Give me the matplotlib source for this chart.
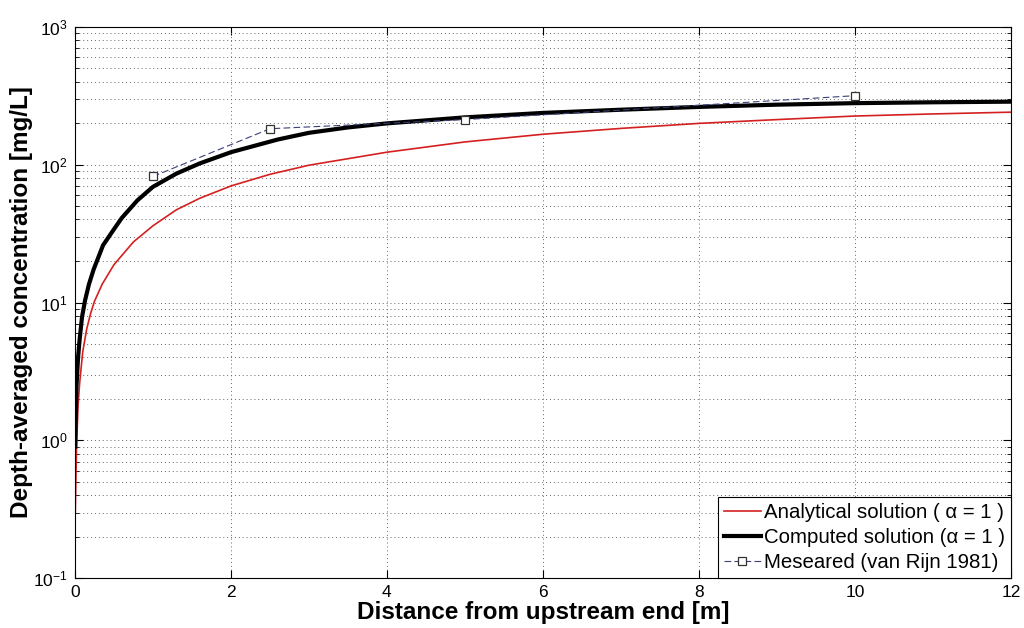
import matplotlib
matplotlib.use("Agg")
import matplotlib.pyplot as plt
from matplotlib.ticker import LogLocator, FixedLocator, NullFormatter

plt.rcParams['font.family'] = ['Liberation Sans', 'DejaVu Sans']
plt.rcParams['mathtext.default'] = 'regular'

# Analytical solution (red)
x_analytical = [0.004, 0.01, 0.02, 0.04, 0.06, 0.1, 0.15, 0.2, 0.25, 0.35, 0.5, 0.75,
                1.0, 1.3, 1.6, 2.0, 2.5, 3.0, 4.0, 5.0, 6.0, 7.0, 8.0, 9.0, 10.0, 11.0, 12.0]
c_analytical = [0.3, 0.45, 0.9, 1.8, 2.6, 4.4, 6.4, 8.3, 10.2, 13.6, 18.8, 27.5,
                36, 47, 57, 70, 85, 99, 123, 146, 166, 183, 199, 212, 225, 233, 240]

# Computed solution (black)
x_computed = [0.003, 0.01, 0.02, 0.04, 0.06, 0.09, 0.13, 0.18, 0.24, 0.36, 0.5, 0.6, 0.8,
              1.0, 1.3, 1.6, 2.0, 2.6, 3.0, 3.5, 4.0, 5.0, 6.0, 7.0, 8.0, 9.0, 10.0, 11.0, 12.0]
c_computed = [0.9, 1.5, 2.5, 4.0, 5.4, 7.8, 10.4, 13.6, 17.4, 26, 34, 41, 55,
              69, 86, 102, 123, 152, 170, 186, 199, 220, 237, 250, 262, 272, 279, 283, 286]

# Measured (van Rijn 1981)
x_measured = [1, 2.5, 5, 10]
c_measured = [82, 182, 212, 316]

x_ticks = [0, 2, 4, 6, 8, 10, 12]

fig = plt.figure(figsize=(10.24, 6.28), dpi=100)
ax = fig.add_axes([0.0732, 0.0791, 0.914, 0.8784])

ax.plot(x_analytical, c_analytical, color='#d42020', lw=1.2,
        label='Analytical solution ( α = 1 )')
ax.plot(x_computed, c_computed, color='black', lw=3.0,
        label='Computed solution (α = 1 )')
ax.plot(x_measured, c_measured, color='#3a3f7a', lw=0.8, ls=(0, (6, 3)),
        marker='s', ms=6, mfc='white', mec='#333333', mew=0.9,
        label='Meseared (van Rijn 1981)')

ax.set_yscale('log')
ax.set_xlim(0, 12)
ax.set_ylim(0.1, 1000)
ax.xaxis.set_major_locator(FixedLocator(x_ticks))
ax.yaxis.set_major_locator(LogLocator(base=10, numticks=10))
ax.yaxis.set_minor_locator(LogLocator(base=10, subs=range(2, 10), numticks=20))
ax.yaxis.set_minor_formatter(NullFormatter())

grid_kw = dict(color='#666666', lw=0.7, ls=(0, (1, 3)))
ax.grid(True, which='major', axis='both', **grid_kw)
ax.grid(True, which='minor', axis='y', **grid_kw)

ax.tick_params(which='both', direction='in', top=True, right=True, labelsize=12.5)
ax.tick_params(which='major', length=6)
ax.tick_params(which='minor', length=3)
ax.tick_params(axis='x', pad=5)
ax.tick_params(axis='y', pad=5)
for s in ax.spines.values():
    s.set_linewidth(0.8)

ax.set_xlabel('Distance from upstream end [m]', fontsize=17.5, fontweight='bold', va='top')
ax.xaxis.set_label_coords(0.5, -0.041)
ax.set_ylabel('Depth-averaged concentration [mg/L]', fontsize=17.5, fontweight='bold')
ax.yaxis.set_label_coords(-0.045, 0.5)

leg = ax.legend(loc='lower right', fontsize=14.7, frameon=True, fancybox=False,
                borderaxespad=0, handlelength=1.8, handletextpad=0.15,
                labelspacing=0.3, borderpad=0.3)
leg.get_frame().set_edgecolor('black')
leg.get_frame().set_linewidth(0.8)
leg.get_frame().set_alpha(1)

fig.savefig('out.png', dpi=100)
